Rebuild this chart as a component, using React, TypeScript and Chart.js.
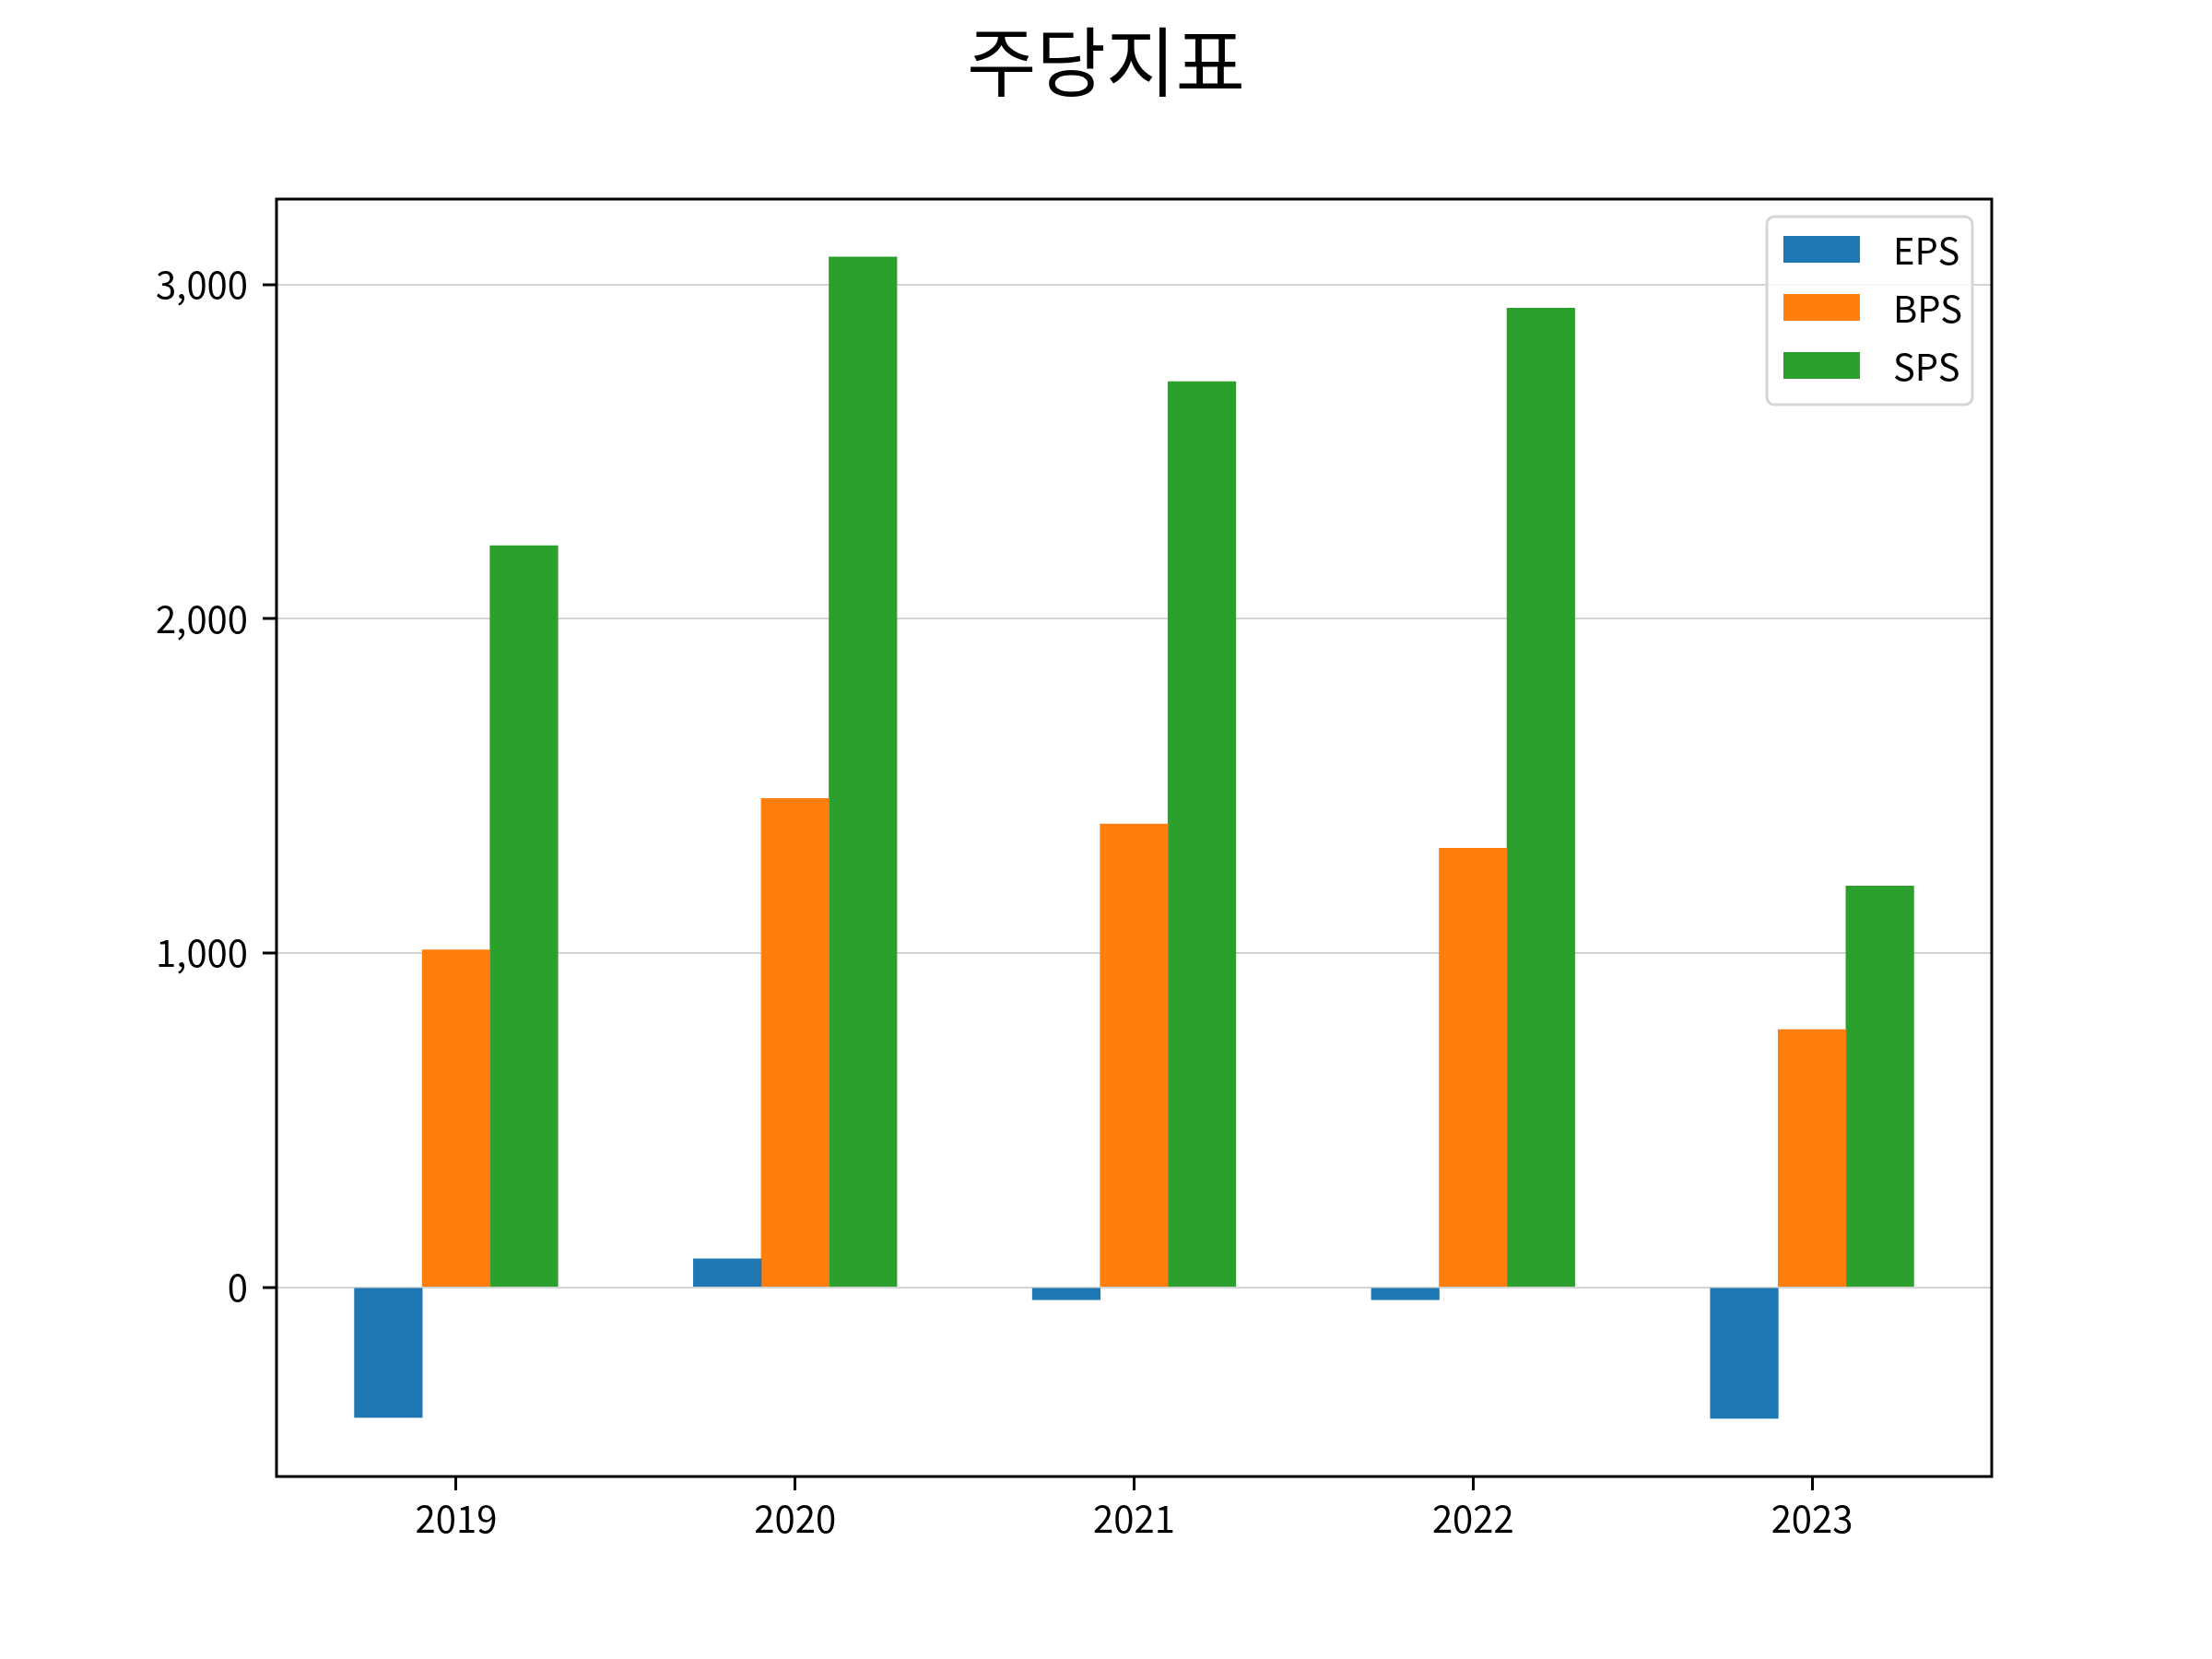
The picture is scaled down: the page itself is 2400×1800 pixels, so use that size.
import { useRef, useEffect } from "react"
import { Chart, registerables } from "chart.js"

Chart.register(...registerables)

const title = "주당지표"
const years = ["2019", "2020", "2021", "2022", "2023"]
const eps = [-389, 85, -37, -37, -392]
const bps = [1010, 1463, 1386, 1314, 771]
const sps = [2219, 3083, 2710, 2930, 1201]
const yTicks = [0, 1000, 2000, 3000]

const FONT = "'Noto Sans CJK KR', 'Noto Sans', sans-serif"

// figure title, centred on the whole canvas like a suptitle
const figTitle = {
  id: "figTitle",
  afterDraw(chart: any) {
    const { ctx, width } = chart
    ctx.save()
    ctx.font = `82px ${FONT}`
    ctx.fillStyle = "#000"
    ctx.textAlign = "center"
    ctx.textBaseline = "middle"
    ctx.fillText(title, width / 2, 67)
    ctx.restore()
  },
}

// matplotlib-style boxed legend inside the plot, top right
const boxLegend = {
  id: "boxLegend",
  afterDraw(chart: any) {
    const { ctx, chartArea } = chart
    const w = 223
    const h = 204
    const left = chartArea.right - 21 - w
    const top = chartArea.top + 19
    ctx.save()
    ctx.beginPath()
    ctx.roundRect(left, top, w, h, 8)
    ctx.fillStyle = "rgba(255,255,255,0.8)"
    ctx.fill()
    ctx.lineWidth = 3
    ctx.strokeStyle = "#d6d6d6"
    ctx.stroke()
    ctx.font = `40px ${FONT}`
    ctx.textBaseline = "middle"
    chart.data.datasets.forEach((ds: any, i: number) => {
      const cy = top + 35.5 + i * 63
      ctx.fillStyle = ds.backgroundColor
      ctx.fillRect(left + 18, cy - 14.5, 83, 29)
      ctx.fillStyle = "#000"
      ctx.fillText(ds.label, left + 137, cy + 1)
    })
    ctx.restore()
  },
}

// black frame around the axes
const frame = {
  id: "frame",
  afterDatasetsDraw(chart: any) {
    const { ctx, chartArea } = chart
    ctx.save()
    ctx.lineWidth = 3
    ctx.strokeStyle = "#000"
    ctx.strokeRect(chartArea.left, chartArea.top, chartArea.right - chartArea.left, chartArea.bottom - chartArea.top)
    ctx.restore()
  },
}

function PerShareChart() {
  const chartRef = useRef<HTMLCanvasElement>(null)
  const chartInstance = useRef<Chart | null>(null)

  useEffect(() => {
    if (!chartRef.current) return
    if (chartInstance.current) chartInstance.current.destroy()
    const ctx = chartRef.current.getContext("2d")
    if (!ctx) return

    const series = [
      { label: "EPS", values: eps, color: "#1f77b4", shift: -0.2 },
      { label: "BPS", values: bps, color: "#ff7f0e", shift: 0 },
      { label: "SPS", values: sps, color: "#2ca02c", shift: 0.2 },
    ]

    chartInstance.current = new Chart(ctx, {
      type: "bar",
      data: {
        datasets: series.map((s) => ({
          label: s.label,
          data: s.values.map((v, i) => ({ x: i + s.shift, y: v })),
          backgroundColor: s.color,
          borderWidth: 0,
          grouped: false,
          barPercentage: 1,
          categoryPercentage: 1,
        })),
      },
      plugins: [frame, boxLegend, figTitle],
      options: {
        responsive: false,
        devicePixelRatio: 1,
        animation: false,
        layout: { padding: { left: 0, right: 239, top: 216, bottom: 0 } },
        plugins: {
          legend: { display: false },
          tooltip: { enabled: false },
          title: { display: false },
        },
        scales: {
          x: {
            type: "linear",
            min: -0.53,
            max: 4.53,
            offset: false,
            afterFit: (scale: any) => {
              scale.height = 198
            },
            afterBuildTicks: (scale: any) => {
              scale.ticks = years.map((_, i) => ({ value: i }))
            },
            border: { display: false },
            grid: {
              offset: false,
              drawOnChartArea: false,
              drawTicks: true,
              tickLength: 15,
              tickColor: "#000",
              tickWidth: 3,
            },
            ticks: {
              autoSkip: false,
              maxRotation: 0,
              padding: 7,
              color: "#000",
              font: { family: FONT, size: 40 },
              callback: (v: any) => years[Math.round(Number(v))],
            },
          },
          y: {
            min: -566,
            max: 3256,
            z: 1,
            afterFit: (scale: any) => {
              scale.width = 300
            },
            afterBuildTicks: (scale: any) => {
              scale.ticks = yTicks.map((v) => ({ value: v }))
            },
            border: { display: false },
            grid: {
              color: "#d3d3d3",
              lineWidth: 2,
              tickLength: 15,
              tickColor: "#000",
              tickWidth: 3,
            },
            ticks: {
              padding: 16,
              color: "#000",
              font: { family: FONT, size: 40 },
              callback: (v: any) => Number(v).toLocaleString("en-US"),
            },
          },
        },
      },
    } as any)

    return () => {
      if (chartInstance.current) {
        chartInstance.current.destroy()
        chartInstance.current = null
      }
    }
  }, [])

  return <canvas ref={chartRef} width={2400} height={1800} style={{ display: "block" }} />
}

export default function App() {
  return (
    <div style={{ position: "fixed", left: 0, top: 0, width: 2400, height: 1800, background: "#fff" }}>
      <PerShareChart />
    </div>
  )
}
